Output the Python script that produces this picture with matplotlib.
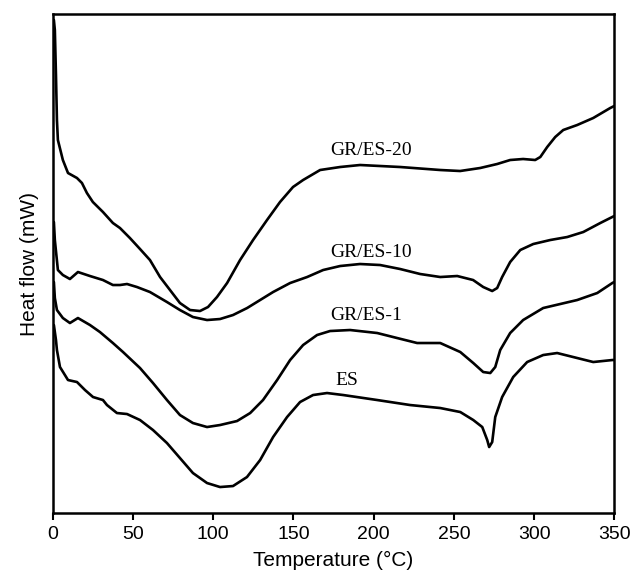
import matplotlib
matplotlib.use("Agg")
import matplotlib.pyplot as plt

# temperature (C) and heat flow (a.u.)
t_gr20 = [0.6, 1.2, 1.9, 2.5, 3.1, 6.2, 9.4, 15.0, 18.1, 21.2, 24.9, 31.2, 37.4, 41.8, 48.0,
          54.3, 60.5, 66.8, 73.0, 79.2, 85.5, 91.7, 96.7, 102.3, 108.6, 116.7, 124.8, 133.5,
          141.6, 149.7, 156.0, 166.6, 179.1, 191.5, 216.5, 241.5, 253.9, 266.4, 277.0, 285.1,
          293.2, 300.7, 303.9, 308.2, 313.2, 318.2, 326.9, 336.9, 347.5, 350.0]
h_gr20 = [493, 483, 438, 393, 373, 353, 340, 335, 330, 320, 311, 301, 290, 285, 275,
          264, 253, 236, 223, 210, 203, 202, 206, 216, 230, 253, 273, 293,
          311, 326, 333, 343, 346, 348, 346, 343, 342, 345, 349, 353,
          354, 353, 356, 366, 376, 383, 388, 395, 405, 407]

t_gr10 = [0.6, 1.2, 3.1, 6.2, 10.6, 15.6, 23.1, 31.2, 37.4, 41.8, 46.2, 52.4, 60.5, 71.1, 79.2,
          87.3, 96.1, 104.2, 112.3, 121.1, 129.2, 137.3, 147.9, 158.5, 168.5, 179.1, 191.5,
          204.0, 216.5, 229.0, 241.5, 252.1, 262.0, 268.3, 273.9, 277.0, 280.1, 285.1, 291.4,
          299.5, 310.1, 320.7, 330.7, 341.3, 347.5, 350.0]
h_gr10 = [291, 273, 243, 238, 234, 241, 237, 233, 228, 228, 229, 226, 221, 211, 203,
          196, 193, 194, 198, 205, 213, 221, 230, 236, 243, 247, 249,
          248, 244, 239, 236, 237, 233, 226, 222, 225, 236, 251, 263,
          269, 273, 276, 281, 290, 295, 297]

t_gr1 = [0.6, 1.2, 2.5, 6.2, 10.6, 15.6, 23.1, 29.3, 37.4, 43.7, 54.3, 62.4, 71.1, 79.2, 87.3,
         96.1, 104.2, 114.8, 123.0, 131.0, 139.8, 147.9, 156.0, 164.7, 172.8, 185.3, 202.2,
         214.6, 227.1, 241.5, 254.0, 262.1, 268.3, 272.7, 275.8, 278.9, 285.1, 293.2, 305.7,
         326.9, 339.4, 348.8, 350.0]
h_gr1 = [231, 215, 203, 195, 190, 195, 188, 181, 170, 161, 145, 130, 113, 98, 90,
         86, 88, 92, 100, 113, 133, 153, 168, 178, 182, 183, 180,
         175, 170, 170, 161, 150, 141, 140, 146, 163, 180, 193, 205,
         213, 220, 230, 231]

t_es = [0.6, 1.9, 2.5, 4.4, 9.4, 15.0, 20.0, 25.0, 31.2, 33.7, 39.9, 46.2, 54.3, 62.4, 71.1,
        79.2, 87.3, 96.1, 104.2, 112.3, 121.0, 129.2, 137.3, 146.0, 154.1, 162.2, 170.9,
        181.0, 202.2, 222.7, 241.5, 254.0, 262.1, 267.7, 270.8, 272.0, 273.9, 275.8, 280.1,
        287.0, 295.7, 305.7, 314.4, 326.9, 336.9, 348.8, 350.0]
h_es = [188, 173, 163, 146, 133, 131, 123, 116, 113, 108, 100, 99, 93, 83, 70,
        55, 40, 30, 26, 27, 36, 53, 76, 96, 111, 118, 120,
        118, 113, 108, 105, 101, 93, 86, 73, 66, 71, 96, 116,
        136, 151, 158, 160, 155, 151, 153, 153]

names = ["GR/ES-20", "GR/ES-10", "GR/ES-1", "ES"]
label_t = [172.8, 172.8, 172.8, 176]
label_h = [363, 261, 198, 133]

fig = plt.figure(figsize=(6.3, 5.83), dpi=100)
ax = fig.add_axes([0.084, 0.12, 0.891, 0.856])

for t, h in [(t_gr20, h_gr20), (t_gr10, h_gr10), (t_gr1, h_gr1), (t_es, h_es)]:
    ax.plot(t, h, color="black", lw=1.9, solid_joinstyle="round", solid_capstyle="round")

for name, x, y in zip(names, label_t, label_h):
    ax.text(x, y, name, ha="left", va="center", fontsize=14, family="Liberation Serif")

ax.set_xlim(0, 350)
ax.set_ylim(0, 499)
ax.set_xticks(range(0, 351, 50))
ax.set_yticks([])
ax.tick_params(axis="x", direction="out", length=5, width=1.5, labelsize=14, pad=4)
for lab in ax.get_xticklabels():
    lab.set_family("Liberation Sans")
for sp in ax.spines.values():
    sp.set_linewidth(1.8)

ax.set_xlabel("Temperature (°C)", fontsize=15, family="Liberation Sans", labelpad=6)
ax.set_ylabel("Heat flow (mW)", fontsize=15, family="Liberation Sans", labelpad=10)

fig.savefig("out.png", dpi=100)
